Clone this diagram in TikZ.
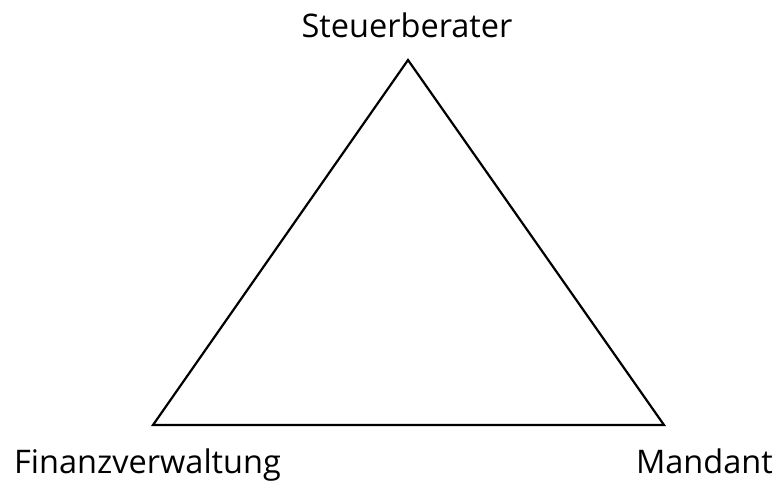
\documentclass[tikz,border=0pt]{standalone}
\usepackage{fontspec}
\setmainfont{Open Sans}
\begin{document}
\begin{tikzpicture}[x=1pt,y=-1pt,
  lbl/.style={font=\fontsize{32.5}{38}\selectfont, inner sep=0pt},
  edge/.style={line width=2.2pt, line join=miter}]
\useasboundingbox (0,0) rectangle (776,480);
\coordinate (T) at (408,60);
\coordinate (L) at (153,425);
\coordinate (R) at (664,425);
\draw[edge] (T) -- (L) -- (R) -- cycle;
\node[lbl, anchor=base] (st) at (407,37) {Steuerberater};
\node[lbl, anchor=base west] (fv) at (14,473) {Finanzverwaltung};
\node[lbl, anchor=base east] (md) at (773,473) {Mandant};
\end{tikzpicture}
\end{document}
